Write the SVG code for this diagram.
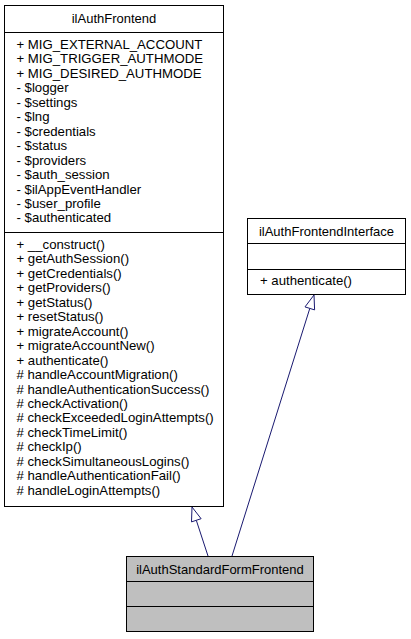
<svg xmlns="http://www.w3.org/2000/svg" width="411" height="639" viewBox="0 0 411 639">
<style>
.box{fill:#ffffff;stroke:#000000;stroke-width:1}
.cur{fill:#bfbfbf;stroke:#000000;stroke-width:1}
.sep{stroke:#000000;stroke-width:1;fill:none}
text{font-family:"Liberation Sans",Arial,Helvetica,sans-serif;font-size:13.2px;fill:#000000}
.t{text-anchor:middle;font-size:13px}
.edge{stroke:#191970;stroke-width:1;fill:none}
.head{fill:#ffffff;stroke:#191970;stroke-width:1}
</style>
<rect width="411" height="639" fill="#ffffff"/>
<g id="connectors">
<path class="edge" d="M208,556 L196.3,520.3"/>
<polygon class="head" points="192,507 201.1,518.7 191.5,521.9"/>
<path class="edge" d="M232,556 L309.8,308.4"/>
<polygon class="head" points="314,295 314.6,309.9 305,306.9"/>
</g>
<g id="ilAuthFrontend">
<rect class="box" x="4.5" y="5.5" width="219" height="501"/>
<line class="sep" x1="4.5" y1="32.5" x2="223.5" y2="32.5"/>
<line class="sep" x1="4.5" y1="232.5" x2="223.5" y2="232.5"/>
<text class="t" x="114" y="22.5">ilAuthFrontend</text>
<text x="16.5" y="49">+ MIG_EXTERNAL_ACCOUNT</text>
<text x="16.5" y="63.45">+ MIG_TRIGGER_AUTHMODE</text>
<text x="16.5" y="77.9">+ MIG_DESIRED_AUTHMODE</text>
<text x="16.5" y="92.35">- $logger</text>
<text x="16.5" y="106.8">- $settings</text>
<text x="16.5" y="121.25">- $lng</text>
<text x="16.5" y="135.7">- $credentials</text>
<text x="16.5" y="150.15">- $status</text>
<text x="16.5" y="164.6">- $providers</text>
<text x="16.5" y="179.05">- $auth_session</text>
<text x="16.5" y="193.5">- $ilAppEventHandler</text>
<text x="16.5" y="207.95">- $user_profile</text>
<text x="16.5" y="222.4">- $authenticated</text>
<text x="16.5" y="249">+ __construct()</text>
<text x="16.5" y="263.45">+ getAuthSession()</text>
<text x="16.5" y="277.9">+ getCredentials()</text>
<text x="16.5" y="292.35">+ getProviders()</text>
<text x="16.5" y="306.8">+ getStatus()</text>
<text x="16.5" y="321.25">+ resetStatus()</text>
<text x="16.5" y="335.7">+ migrateAccount()</text>
<text x="16.5" y="350.15">+ migrateAccountNew()</text>
<text x="16.5" y="364.6">+ authenticate()</text>
<text x="16.5" y="379.05"># handleAccountMigration()</text>
<text x="16.5" y="393.5"># handleAuthenticationSuccess()</text>
<text x="16.5" y="407.95"># checkActivation()</text>
<text x="16.5" y="422.4"># checkExceededLoginAttempts()</text>
<text x="16.5" y="436.85"># checkTimeLimit()</text>
<text x="16.5" y="451.3"># checkIp()</text>
<text x="16.5" y="465.75"># checkSimultaneousLogins()</text>
<text x="16.5" y="480.2"># handleAuthenticationFail()</text>
<text x="16.5" y="494.65"># handleLoginAttempts()</text>
</g>
<g id="ilAuthFrontendInterface">
<rect class="box" x="247.5" y="218.5" width="158" height="76"/>
<line class="sep" x1="247.5" y1="243.5" x2="405.5" y2="243.5"/>
<line class="sep" x1="247.5" y1="269.5" x2="405.5" y2="269.5"/>
<text class="t" x="326.5" y="236">ilAuthFrontendInterface</text>
<text x="260" y="284.5">+ authenticate()</text>
</g>
<g id="ilAuthStandardFormFrontend">
<rect class="cur" x="126.5" y="556.5" width="187" height="75"/>
<line class="sep" x1="126.5" y1="581.5" x2="313.5" y2="581.5"/>
<line class="sep" x1="126.5" y1="606.5" x2="313.5" y2="606.5"/>
<text class="t" x="220" y="573.5">ilAuthStandardFormFrontend</text>
</g>
</svg>
